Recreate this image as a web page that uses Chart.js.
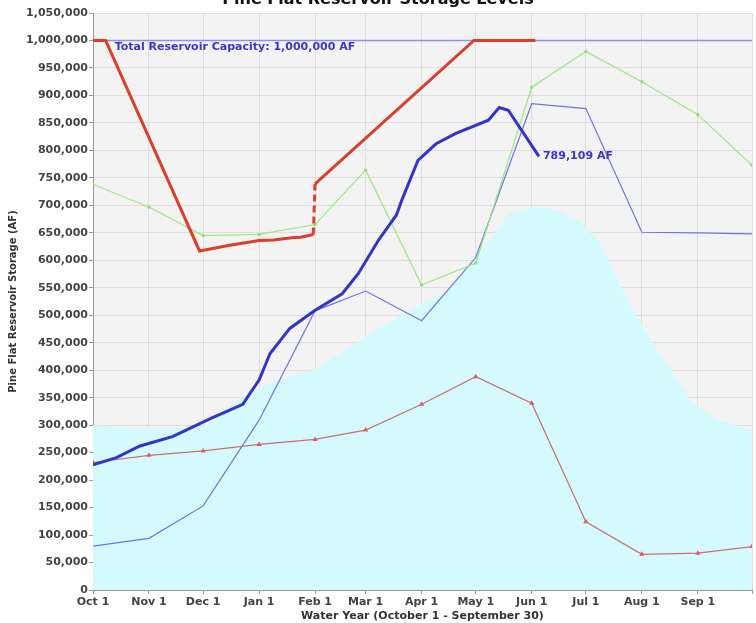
<!DOCTYPE html>
<html>
<head>
<meta charset="utf-8">
<script src="https://cdn.jsdelivr.net/npm/chart.js@4/dist/chart.umd.min.js"></script>
<style>
  html, body { margin: 0; padding: 0; background: #ffffff; }
  #wrap { width: 756px; height: 623px; }
</style>
</head>
<body>
<div id="wrap"><canvas id="c" width="756" height="623"></canvas></div>
<script>
// ---- Data (day of water year, starting Oct 1 = 0) ----
const chartTitle = 'Pine Flat Reservoir Storage Levels';
const xTitle = 'Water Year (October 1 - September 30)';
const yTitle = 'Pine Flat Reservoir Storage (AF)';

const monthDays = [0, 31, 61, 92, 123, 151, 182, 212, 243, 273, 304, 335, 365];
const monthLabels = ['Oct 1', 'Nov 1', 'Dec 1', 'Jan 1', 'Feb 1', 'Mar 1', 'Apr 1', 'May 1', 'Jun 1', 'Jul 1', 'Aug 1', 'Sep 1', ''];

const capacity = 1000000;
const capacityLabel = 'Total Reservoir Capacity: 1,000,000 AF';
const capacityLabelDay = 12;

// Historical average (cyan area)
const avgDays = [0, 15, 35, 55, 63, 75, 92, 110, 123, 137, 151, 169, 182, 197, 214, 225, 230, 241, 250, 258, 269, 280, 287, 298, 309, 320, 331, 346, 365];
const avgStorage = [300000, 296000, 295000, 297000, 300000, 335000, 368000, 390000, 402000, 430000, 462000, 497000, 520000, 545000, 612000, 660000, 685000, 695000, 697000, 690000, 673000, 636000, 588000, 515000, 455000, 400000, 345000, 309000, 291000];

// Current water year (thick blue)
const curDays = [0, 13, 26, 44, 65, 83, 87, 92, 98, 109, 123, 138, 147, 158, 168, 171, 180, 190, 201, 219, 225, 230, 247];
const curStorage = [228000, 241000, 262000, 279000, 312000, 338000, 358000, 382000, 430000, 476000, 509000, 539000, 576000, 636000, 682000, 709000, 782000, 812000, 831000, 855000, 878000, 873000, 789109];

// Flood control allowable storage (thick red)
const floodDays = [0, 7, 59, 75, 92, 100, 110, 115, 122, 123, 211, 245];
const floodStorage = [1000000, 1000000, 617000, 627000, 636000, 637000, 641000, 642000, 647000, 739000, 1000000, 1000000];

// Wet year (green, monthly)
const wetStorage = [738000, 697000, 645000, 647000, 665000, 764000, 555000, 595000, 915000, 980000, 925000, 865000, 773000];

// Other year (thin blue, monthly)
const otherStorage = [80000, 94000, 153000, 309000, 508000, 544000, 490000, 605000, 885000, 876000, 651000, 650000, 648000];

// Dry year (thin red, monthly)
const dryStorage = [232000, 245000, 253000, 265000, 274000, 291000, 338000, 388000, 340000, 124000, 65000, 67000, 79000];

// ---- helpers ----
const pts = (xs, ys) => xs.map((x, i) => ({ x: x, y: ys[i] }));
const FONT = 'DejaVu Sans';

const bgPlugin = {
  id: 'bg',
  beforeDraw(chart) {
    const { ctx, chartArea: a } = chart;
    ctx.save();
    ctx.fillStyle = '#ffffff';
    ctx.fillRect(0, 0, chart.width, chart.height);
    ctx.fillStyle = '#f3f3f3';
    ctx.fillRect(a.left, a.top, a.right - a.left, a.bottom - a.top);
    ctx.restore();
  }
};

const textPlugin = {
  id: 'texts',
  afterDatasetsDraw(chart) {
    const { ctx } = chart;
    const xs = chart.scales.x, ys = chart.scales.y;
    ctx.save();
    ctx.fillStyle = '#3a36c8';
    ctx.font = 'bold 11px "' + FONT + '"';
    ctx.textAlign = 'left';
    ctx.textBaseline = 'middle';
    ctx.fillText(capacityLabel, xs.getPixelForValue(capacityLabelDay), ys.getPixelForValue(capacity) + 7);
    const lastI = curDays.length - 1;
    const lx = xs.getPixelForValue(curDays[lastI]);
    const ly = ys.getPixelForValue(curStorage[lastI]);
    ctx.fillText(curStorage[lastI].toLocaleString('en-US') + ' AF', lx + 4, ly);
    ctx.restore();
  },
  afterDraw(chart) {
    const { ctx } = chart;
    ctx.save();
    ctx.fillStyle = '#111111';
    ctx.font = 'bold 16px "' + FONT + '"';
    ctx.textAlign = 'center';
    ctx.textBaseline = 'alphabetic';
    ctx.fillText(chartTitle, chart.width / 2, 4);
    ctx.restore();
  }
};

const chart = new Chart(document.getElementById('c'), {
  type: 'line',
  data: {
    datasets: [
      {
        label: 'Thick blue current',
        data: pts(curDays, curStorage),
        borderColor: '#3434c8',
        borderWidth: 3,
        pointRadius: 0,
        fill: false,
        order: 1
      },
      {
        label: 'Flood control',
        data: pts(floodDays, floodStorage),
        borderColor: '#d9402b',
        borderWidth: 3,
        pointRadius: 0,
        fill: false,
        order: 2,
        segment: {
          borderDash: c => (c.p1.parsed.x - c.p0.parsed.x < 3 && Math.abs(c.p1.parsed.y - c.p0.parsed.y) > 50000) ? [7, 4] : undefined
        }
      },
      {
        label: 'Dry',
        data: pts(monthDays, dryStorage),
        borderColor: '#c87070',
        backgroundColor: '#dd5a5a',
        borderWidth: 1.2,
        pointStyle: 'triangle',
        pointRadius: 3,
        pointBorderWidth: 0,
        fill: false,
        order: 4
      },
      {
        label: 'Wet',
        data: pts(monthDays, wetStorage),
        borderColor: '#9ee683',
        backgroundColor: '#8ede70',
        borderWidth: 1.2,
        pointStyle: 'rect',
        pointRadius: 2,
        pointBorderWidth: 0,
        fill: false,
        order: 5
      },
      {
        label: 'Other',
        data: pts(monthDays, otherStorage),
        borderColor: '#6e74e0',
        borderWidth: 1.2,
        pointRadius: 0,
        fill: false,
        order: 6
      },
      {
        label: 'Capacity',
        data: pts([0, 365], [capacity, capacity]),
        borderColor: '#8f8fee',
        borderWidth: 1.5,
        pointRadius: 0,
        fill: false,
        order: 9
      },
      {
        label: 'Average',
        data: pts(avgDays, avgStorage),
        borderColor: 'rgba(0,0,0,0)',
        borderWidth: 0,
        backgroundColor: '#d5fafd',
        pointRadius: 0,
        fill: 'origin',
        order: 10
      }
    ]
  },
  options: {
    responsive: false,
    devicePixelRatio: 1,
    animation: false,
    layout: { padding: { top: 13, right: 1, left: 0, bottom: 0 } },
    plugins: {
      legend: { display: false },
      tooltip: { enabled: false },
      title: { display: false }
    },
    scales: {
      x: {
        type: 'linear',
        min: 0,
        max: 365,
        afterBuildTicks(scale) { scale.ticks = monthDays.map(v => ({ value: v })); },
        afterFit(scale) { scale.height = 33; },
        ticks: {
          autoSkip: false,
          maxRotation: 0,
          padding: 2,
          color: '#444444',
          font: { family: FONT, size: 11, weight: 'bold' },
          callback: (v) => { const i = monthDays.indexOf(v); return i >= 0 ? monthLabels[i] : ''; }
        },
        grid: { color: '#dedede', tickColor: '#999999', tickLength: 4 },
        border: { color: '#999999', width: 1 },
        title: {
          display: true,
          text: xTitle,
          color: '#333333',
          font: { family: FONT, size: 11, weight: 'bold', lineHeight: 1.2 },
          padding: { top: 0, bottom: 0 }
        }
      },
      y: {
        type: 'linear',
        min: 0,
        max: 1050000,
        afterFit(scale) { scale.width = 93; },
        ticks: {
          stepSize: 50000,
          padding: 1,
          color: '#444444',
          font: { family: FONT, size: 11, weight: 'bold' },
          callback: (v) => Number(v).toLocaleString('en-US')
        },
        grid: { color: '#dedede', tickColor: '#999999', tickLength: 4 },
        border: { color: '#999999', width: 1 },
        title: {
          display: true,
          text: yTitle,
          color: '#333333',
          font: { family: FONT, size: 10, weight: 'bold', lineHeight: 1.2 },
          padding: { top: 7, bottom: 0 }
        }
      }
    }
  },
  plugins: [bgPlugin, textPlugin]
});
</script>
</body>
</html>
